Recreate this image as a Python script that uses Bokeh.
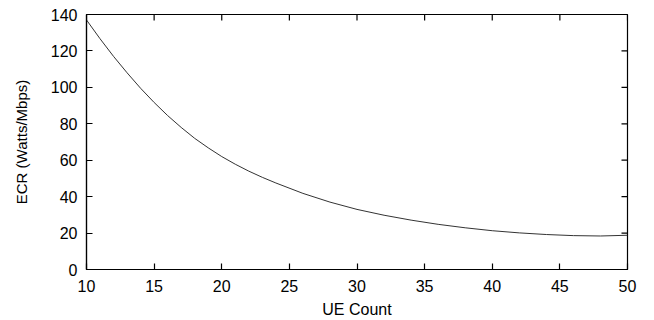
import math
from bokeh.plotting import figure
from bokeh.models import Range1d, FixedTicker
from bokeh.embed import file_html
from bokeh.resources import INLINE

ue_count = [10, 11, 12, 13, 14, 15, 16, 17, 18, 19, 20, 21, 22, 23, 24, 26, 28, 30, 32, 34,
            36, 38, 40, 42, 44, 46, 48, 50]
ecr = [137, 126.7, 117, 108, 99.5, 91.7, 84.5, 78, 72, 66.8, 62, 57.8, 54, 50.6, 47.5,
       41.8, 37, 33, 29.8, 27.1, 24.8, 22.9, 21.3, 20.1, 19.2, 18.6, 18.4, 18.8]
x_ticks = [10, 15, 20, 25, 30, 35, 40, 45, 50]
y_ticks = [0, 20, 40, 60, 80, 100, 120, 140]
x_min, x_max = 10, 50
y_min, y_max = 0, 140

FONT = "Liberation Sans"

p = figure(width=654, height=320, output_backend="svg", toolbar_location=None,
           x_range=Range1d(x_min, x_max), y_range=Range1d(y_min, y_max),
           min_border_left=86, min_border_right=27, min_border_top=14, min_border_bottom=51)
p.xgrid.visible = False
p.ygrid.visible = False
p.outline_line_color = "black"
p.outline_line_width = 1.2
p.background_fill_color = "white"
p.border_fill_color = "white"

p.line(ue_count, ecr, line_color="#333333", line_width=1)

# mirrored inward ticks on top and right edges (clipped to the frame)
p.scatter(x=x_ticks, y=[y_max] * len(x_ticks), marker="dash", angle=math.pi / 2,
          size=12, line_color="black", line_width=1.2)
p.scatter(x=[x_max] * len(y_ticks), y=y_ticks, marker="dash", angle=0,
          size=12, line_color="black", line_width=1.2)

def style(ax, ticks):
    ax.ticker = FixedTicker(ticks=ticks)
    ax.major_tick_in = 6
    ax.major_tick_out = 0
    ax.minor_tick_in = 0
    ax.minor_tick_out = 0
    ax.axis_line_color = "black"
    ax.axis_line_width = 1.2
    ax.major_tick_line_color = "black"
    ax.major_tick_line_width = 1.2
    ax.major_label_text_font = FONT
    ax.major_label_text_color = "black"
    ax.major_label_text_font_size = "16px"
    ax.axis_label_text_font = FONT
    ax.axis_label_text_font_style = "normal"
    ax.axis_label_text_color = "black"
    ax.axis_label_text_font_size = "16px"

style(p.xaxis[0], x_ticks)
style(p.yaxis[0], y_ticks)
p.xaxis[0].axis_label = "UE Count"
p.yaxis[0].axis_label = "ECR (Watts/Mbps)"
p.yaxis[0].axis_label_text_font_size = "15px"
p.xaxis[0].major_label_standoff = 10
p.yaxis[0].major_label_standoff = 9
p.xaxis[0].axis_label_standoff = 6
p.yaxis[0].axis_label_standoff = 18

open("out.html", "w").write(file_html(p, INLINE))
